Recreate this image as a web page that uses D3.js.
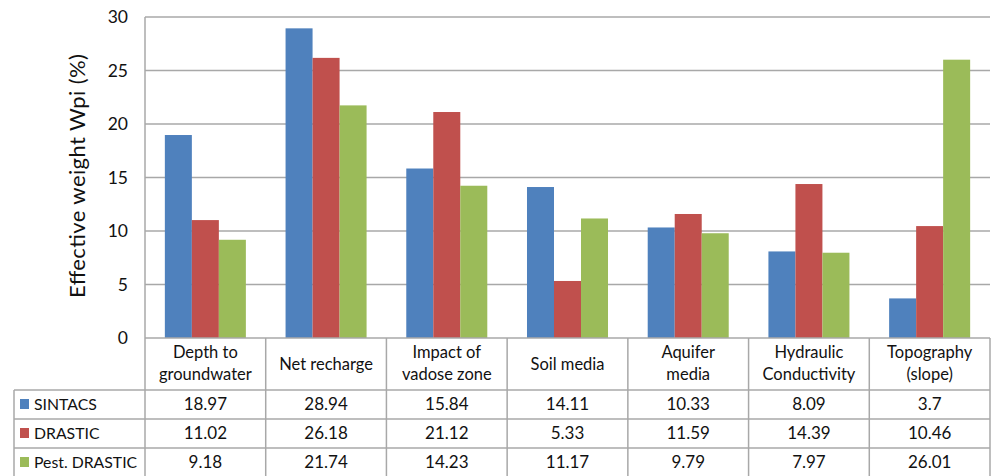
<!DOCTYPE html>
<meta charset="utf-8">
<script src="https://d3js.org/d3.v7.js"></script>
<style>
  body { margin: 0; background: #fff; }
  text { font-family: Lato, "Open Sans", sans-serif; fill: #111; }
</style>
<div id="my_dataviz"></div>
<script>

// chart data
var categories = [
  ["Depth to", "groundwater"],
  ["Net recharge"],
  ["Impact of", "vadose zone"],
  ["Soil media"],
  ["Aquifer", "media"],
  ["Hydraulic", "Conductivity"],
  ["Topography", "(slope)"]
];
var seriesNames = ["SINTACS", "DRASTIC", "Pest. DRASTIC"];
var sintacs = [18.97, 28.94, 15.84, 14.11, 10.33, 8.09, 3.7];
var drastic = [11.02, 26.18, 21.12, 5.33, 11.59, 14.39, 10.46];
var pestDrastic = [9.18, 21.74, 14.23, 11.17, 9.79, 7.97, 26.01];
var yTicks = [0, 5, 10, 15, 20, 25, 30];
var colors = ["#4f81bd", "#c0504d", "#9bbb59"];

var values = [sintacs, drastic, pestDrastic];
var catKeys = categories.map(function(c) { return c.join(" "); });

var width = 992, height = 476;
var plotLeft = 145, plotRight = 990, plotTop = 17, plotBottom = 338;
var rowTop = [338, 390, 419, 448], rowBottom = 477;
var legendLeft = 14;
var gridColor = "#a8a8a8";

var svg = d3.select("#my_dataviz")
  .append("svg")
    .attr("width", width)
    .attr("height", height);

var x = d3.scaleBand().domain(catKeys).range([plotLeft, plotRight]);
var xs = d3.scaleBand().domain(seriesNames).range([0, x.bandwidth()]).paddingOuter(0.735);
var y = d3.scaleLinear().domain([0, 30]).range([plotBottom, plotTop]);

// gridlines
svg.append("g")
  .selectAll("line")
  .data(yTicks.filter(function(d) { return d > 0; }))
  .join("line")
    .attr("x1", plotLeft).attr("x2", plotRight)
    .attr("y1", function(d) { return y(d); }).attr("y2", function(d) { return y(d); })
    .attr("stroke", gridColor).attr("stroke-width", 1.5);

// y tick labels
svg.append("g")
  .selectAll("text")
  .data(yTicks)
  .join("text")
    .attr("x", 128)
    .attr("y", function(d) { return y(d) + 6; })
    .attr("text-anchor", "end")
    .style("font-size", "17.5px")
    .text(function(d) { return d; });

// y axis title
svg.append("text")
  .attr("transform", "translate(85,176) rotate(-90)")
  .attr("text-anchor", "middle")
  .style("font-size", "22px")
  .attr("textLength", 244)
  .text("Effective weight Wpi (%)");

// bars
var groups = svg.append("g")
  .selectAll("g")
  .data(seriesNames)
  .join("g")
    .attr("fill", function(d, i) { return colors[i]; });

groups.selectAll("rect")
  .data(function(s, i) { return values[i].map(function(v, j) { return {s: s, cat: catKeys[j], v: v}; }); })
  .join("rect")
    .attr("x", function(d) { return x(d.cat) + xs(d.s); })
    .attr("y", function(d) { return y(d.v); })
    .attr("width", xs.bandwidth())
    .attr("height", function(d) { return y(0) - y(d.v); });

// data table lines
var tbl = svg.append("g").attr("stroke", gridColor).attr("stroke-width", 1.5);
tbl.append("line")
  .attr("x1", plotLeft).attr("x2", plotRight).attr("y1", plotBottom).attr("y2", plotBottom);
rowTop.slice(1).forEach(function(ry) {
  tbl.append("line").attr("x1", legendLeft).attr("x2", plotRight).attr("y1", ry).attr("y2", ry);
});
tbl.append("line")
  .attr("x1", plotLeft).attr("x2", plotLeft).attr("y1", plotTop).attr("y2", rowBottom);
tbl.append("line")
  .attr("x1", legendLeft).attr("x2", legendLeft).attr("y1", rowTop[1]).attr("y2", rowBottom);
catKeys.forEach(function(k) {
  var cx = x(k) + x.bandwidth();
  tbl.append("line").attr("x1", cx).attr("x2", cx).attr("y1", plotBottom).attr("y2", rowBottom);
});

// category header labels
var head = svg.append("g")
  .selectAll("text")
  .data(categories)
  .join("text")
    .attr("text-anchor", "middle")
    .style("font-size", "16.5px")
    .attr("x", function(d, i) { return x(catKeys[i]) + x.bandwidth() / 2; });
head.selectAll("tspan")
  .data(function(d) { return d.map(function(t) { return {t: t, n: d.length}; }); })
  .join("tspan")
    .attr("x", function() { return this.parentNode.getAttribute("x"); })
    .attr("y", function(d, i) { return d.n === 1 ? 370 : 358 + i * 22; })
    .text(function(d) { return d.t; });

// legend column
var leg = svg.append("g")
  .selectAll("g")
  .data(seriesNames)
  .join("g")
    .attr("transform", function(d, i) { return "translate(0," + rowTop[i + 1] + ")"; });
leg.append("rect")
  .attr("x", 20).attr("y", 9).attr("width", 9).attr("height", 10)
  .attr("fill", function(d, i) { return colors[i]; });
leg.append("text")
  .attr("x", 34).attr("y", 20)
  .style("font-size", "15.8px")
  .text(function(d) { return d; });

// table values
values.forEach(function(arr, i) {
  svg.append("g")
    .selectAll("text")
    .data(arr)
    .join("text")
      .attr("x", function(d, j) { return x(catKeys[j]) + x.bandwidth() / 2; })
      .attr("y", rowTop[i + 1] + 20)
      .attr("text-anchor", "middle")
      .style("font-size", "17px")
      .text(function(d) { return d; });
});

</script>
